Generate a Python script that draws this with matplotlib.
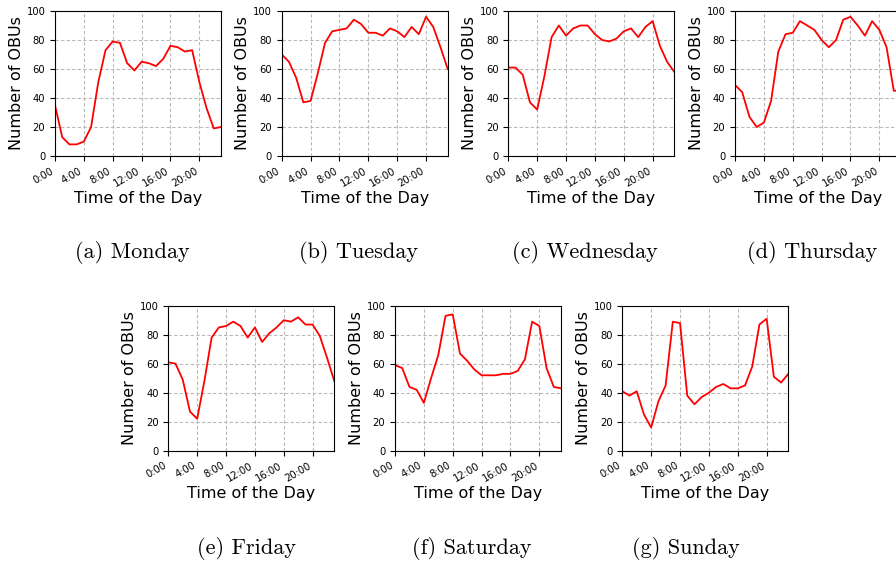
import matplotlib
matplotlib.use("Agg")
import matplotlib.pyplot as plt

# horas del dia (0..23)
hours = list(range(24))
tick_pos = [0, 4, 8, 12, 16, 20]
tick_labels = ["0:00", "4:00", "8:00", "12:00", "16:00", "20:00"]

# numero de OBUs por hora para cada dia
monday = [35, 13, 8, 8, 10, 20, 51, 73, 79, 78, 64, 59, 65, 64, 62, 67, 76, 75, 72, 73, 51, 33, 19, 20]
tuesday = [70, 65, 54, 37, 38, 57, 78, 86, 87, 88, 94, 91, 85, 85, 83, 88, 86, 82, 89, 84, 96, 89, 75, 60]
wednesday = [61, 61, 56, 37, 32, 55, 82, 90, 83, 88, 90, 90, 84, 80, 79, 81, 86, 88, 82, 89, 93, 76, 65, 58]
thursday = [49, 44, 27, 20, 23, 38, 72, 84, 85, 93, 90, 87, 80, 75, 80, 94, 96, 90, 83, 93, 87, 75, 45, 45]
friday = [61, 60, 49, 27, 22, 48, 78, 85, 86, 89, 86, 78, 85, 75, 81, 85, 90, 89, 92, 87, 87, 79, 64, 48]
saturday = [59, 57, 44, 42, 33, 50, 66, 93, 94, 67, 62, 56, 52, 52, 52, 53, 53, 55, 63, 89, 86, 57, 44, 43]
sunday = [41, 38, 41, 25, 16, 34, 45, 89, 88, 38, 32, 37, 40, 44, 46, 43, 43, 45, 58, 87, 91, 51, 47, 53]

days = [monday, tuesday, wednesday, thursday, friday, saturday, sunday]
captions = ["(a) Monday", "(b) Tuesday", "(c) Wednesday", "(d) Thursday",
            "(e) Friday", "(f) Saturday", "(g) Sunday"]

W, H = 896, 565
fig = plt.figure(figsize=(W / 100, H / 100), dpi=100)

# posicion (px) de cada panel: izquierda, arriba, centro del pie
lefts = [55, 281.7, 508.3, 735, 168.3, 395, 622.3]
tops = [11, 11, 11, 11, 305.7, 305.7, 305.7]
cap_x = [132, 358, 585, 812, 246, 472, 686]
cap_y = [253, 253, 253, 253, 548, 548, 548]
aw, ah = 166, 145

for i, vals in enumerate(days):
    ax = fig.add_axes([lefts[i] / W, 1 - (tops[i] + ah) / H, aw / W, ah / H])
    ax.plot(hours, vals, color="red", linewidth=1.3)
    ax.set_xlim(0, 23)
    ax.set_ylim(0, 100)
    ax.set_xticks(tick_pos)
    ax.set_xticklabels(tick_labels, rotation=30, ha="right", fontsize=7.2)
    ax.set_yticks([0, 20, 40, 60, 80, 100])
    ax.tick_params(axis="y", labelsize=7.2)
    ax.grid(True, linestyle=(0, (3, 2)), color="#b8b8b8", linewidth=0.8)
    ax.set_xlabel("Time of the Day", fontsize=11.5, labelpad=2)
    ax.set_ylabel("Number of OBUs", fontsize=11.5, labelpad=2)
    fig.text(cap_x[i] / W, 1 - cap_y[i] / H, captions[i], family="cmr10",
             fontsize=16, ha="center", va="center")

fig.savefig("out.png", dpi=100)
